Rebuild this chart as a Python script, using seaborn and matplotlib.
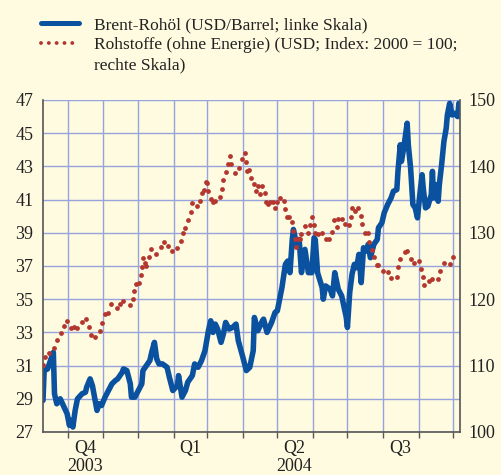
import pandas as pd
import numpy as np
import matplotlib
matplotlib.use('Agg')
import matplotlib.pyplot as plt
import matplotlib.dates as mdates
import matplotlib.ticker as mticker
from matplotlib.lines import Line2D
import seaborn as sns

# days counted from the first trading day shown
start = pd.Timestamp('2003-10-10')
end = pd.Timestamp('2004-10-07')

# Brent crude, USD per barrel (left scale)
brent_day = [0, 1, 4, 9, 10, 12, 15, 17, 21, 23, 24, 26, 28, 30, 34, 37, 38, 41, 43, 47,
             49, 51, 54, 57, 60, 63, 65, 69, 70, 73, 76, 77, 80, 83, 86, 87, 90, 93, 95, 97,
             99, 101, 104, 108, 110, 113, 117, 118, 121, 124, 126, 130, 132, 135, 138, 141, 144, 146, 148, 150,
             152, 155, 157, 159, 162, 165, 168, 170, 172, 174, 177, 180, 183, 184, 187, 191, 192, 195, 199, 202,
             204, 208, 211, 213, 215, 217, 218, 221, 223, 225, 228, 231, 234, 236, 237, 239, 243, 244, 246, 250,
             252, 254, 257, 260, 264, 265, 267, 269, 271, 273, 275, 277, 279, 282, 283, 285, 288, 291, 292, 295,
             297, 300, 303, 305, 308, 309, 311, 312, 314, 317, 318, 320, 322, 324, 326, 328, 330, 331, 333, 335,
             338, 339, 340, 342, 344, 345, 347, 349, 351, 352, 354, 356, 358, 361, 362]
brent_usd = [28.9, 30.7, 30.8, 31.8, 29.3, 28.7, 29.0, 28.7, 28.1, 27.4, 27.7, 27.3, 28.3, 29.0, 29.3, 29.4, 29.7, 30.2, 29.8, 28.3,
             28.7, 28.6, 29.1, 29.5, 29.9, 30.1, 30.2, 30.6, 30.8, 30.7, 29.9, 29.1, 29.1, 29.5, 29.9, 30.7, 31.0, 31.3, 31.9, 32.4,
             31.4, 31.1, 31.1, 30.9, 30.3, 29.5, 29.8, 30.4, 29.1, 29.5, 30.0, 30.4, 31.1, 30.9, 31.3, 31.9, 33.1, 33.7, 33.0, 33.5,
             33.2, 32.4, 32.9, 33.6, 33.2, 33.3, 33.5, 32.5, 32.0, 31.5, 30.7, 30.9, 31.9, 33.9, 33.1, 33.7, 33.8, 33.0, 33.6, 34.2,
             34.3, 35.7, 37.1, 37.3, 36.6, 38.6, 39.2, 38.2, 38.6, 36.6, 38.0, 36.6, 36.6, 38.7, 38.6, 36.6, 35.7, 35.0, 35.8, 35.6,
             35.2, 36.6, 35.6, 35.2, 33.9, 33.3, 35.4, 36.5, 37.1, 36.9, 37.7, 36.0, 38.1, 37.9, 38.3, 37.5, 38.3, 38.6, 39.3, 39.6,
             40.2, 40.7, 41.1, 41.5, 41.6, 42.7, 44.3, 43.3, 44.1, 45.6, 44.3, 42.9, 40.7, 40.5, 39.9, 41.3, 42.5, 41.7, 40.5, 40.6,
             41.3, 42.7, 41.1, 41.9, 40.9, 41.9, 43.1, 44.5, 45.3, 46.1, 46.8, 46.1, 46.2, 46.0, 46.8]

# commodity index excl. energy, 2000 = 100 (right scale)
raw_day = [0, 2, 5, 10, 12, 16, 18, 21, 24, 27, 30, 34, 37, 40, 42, 45, 50, 51, 54, 57,
           59, 64, 67, 70, 76, 78, 79, 81, 84, 85, 86, 87, 89, 90, 92, 94, 98, 103, 105, 109,
           112, 117, 120, 122, 124, 126, 129, 130, 134, 137, 138, 140, 142, 143, 144, 146, 148, 150, 154, 156,
           157, 159, 161, 163, 164, 167, 171, 173, 176, 177, 178, 179, 181, 184, 185, 187, 189, 191, 193, 194,
           196, 198, 200, 202, 204, 206, 210, 211, 212, 214, 217, 218, 219, 220, 222, 224, 225, 228, 231, 232,
           234, 236, 237, 239, 243, 246, 249, 252, 253, 256, 257, 260, 263, 266, 268, 269, 272, 274, 277, 278,
           280, 283, 284, 286, 288, 291, 292, 296, 300, 303, 308, 309, 311, 315, 317, 320, 323, 327, 329, 331,
           332, 336, 339, 344, 346, 349, 354, 357]
raw_index = [110.1, 111.3, 111.9, 112.7, 113.9, 114.9, 116.0, 116.7, 115.7, 115.8, 115.6, 116.6, 117.0, 115.8, 114.6, 114.3, 115.2, 116.4, 117.8, 117.9,
             119.3, 118.7, 119.3, 119.7, 119.1, 120.0, 121.2, 122.3, 122.4, 123.7, 124.9, 126.2, 125.4, 125.0, 126.3, 127.6, 126.8, 127.9, 128.6, 128.0,
             127.3, 127.7, 128.8, 130.0, 130.7, 131.9, 133.1, 134.5, 134.0, 134.8, 136.0, 136.4, 137.6, 137.5, 136.3, 135.1, 134.6, 134.8, 135.4, 136.6,
             137.9, 139.2, 140.4, 141.6, 140.4, 139.0, 139.8, 141.1, 142.0, 140.7, 139.3, 139.4, 138.3, 137.3, 136.3, 137.0, 135.8, 137.0, 136.0, 134.6,
             134.3, 134.7, 134.6, 133.7, 134.6, 135.3, 134.8, 133.6, 132.4, 132.4, 131.6, 130.3, 129.0, 127.9, 129.0, 129.1, 129.8, 131.0, 130.0, 131.2,
             132.4, 131.2, 130.0, 129.8, 130.0, 129.0, 129.0, 130.1, 132.0, 130.9, 132.1, 132.1, 131.3, 131.2, 132.4, 133.7, 133.3, 133.7, 132.5, 131.3,
             130.0, 130.0, 128.6, 127.4, 126.3, 125.2, 125.2, 124.2, 124.1, 123.2, 123.4, 124.8, 126.1, 127.1, 127.3, 126.1, 125.5, 125.8, 124.6, 123.3,
             122.2, 122.7, 123.0, 123.0, 124.2, 125.5, 125.3, 126.4]

quarter_labels = ['Q4\n2003', 'Q1', 'Q2\n2004', 'Q3']
quarter_mid = ['2003-11-16', '2004-02-15', '2004-05-16', '2004-08-16']

legend_labels = ['Brent-Rohöl (USD/Barrel; linke Skala)',
                 'Rohstoffe (ohne Energie) (USD; Index: 2000 = 100;',
                 'rechte Skala)']

brent = pd.DataFrame({'date': start + pd.to_timedelta(brent_day, unit='D'), 'usd': brent_usd})
raw = pd.DataFrame({'date': start + pd.to_timedelta(raw_day, unit='D'), 'index': raw_index})

sns.set_theme(style='white')
plt.rcParams['font.family'] = ['Liberation Serif', 'DejaVu Serif']

bg = '#fffbe1'
blue = '#0a52a0'
red = '#b3372f'
grid = '#97a4dc'
dark = '#555555'
txt = '#222222'

fig = plt.figure(figsize=(5.01, 4.75), dpi=100, facecolor=bg)
ax = fig.add_axes([43 / 501, 1 - 432 / 475, 417 / 501, 332 / 475])
ax.set_facecolor(bg)
ax2 = ax.twinx()

sns.lineplot(data=brent, x='date', y='usd', ax=ax, color=blue, lw=4.0,
             estimator=None, sort=False, legend=False)
sns.scatterplot(data=raw, x='date', y='index', ax=ax2, color=red, s=12,
                linewidth=0, legend=False)

ax.set_xlim(start, end)
ax.set_ylim(27, 47)
ax2.set_ylim(100, 150)
ax.set_yticks(range(27, 48, 2))
ax2.set_yticks(range(100, 151, 10))

ax.xaxis.set_major_locator(mdates.MonthLocator())
ax.xaxis.set_major_formatter(mticker.NullFormatter())
ax.xaxis.set_minor_locator(mticker.FixedLocator(mdates.date2num(pd.to_datetime(quarter_mid))))
ax.xaxis.set_minor_formatter(mticker.FixedFormatter(quarter_labels))

ax.set_axisbelow(True)
ax.grid(True, which='major', color=grid, lw=1)
ax.set_xlabel('')
ax.set_ylabel('')
ax2.set_ylabel('')

for s in ['top', 'right']:
    ax.spines[s].set_visible(False)
for s in ['top', 'left', 'bottom']:
    ax2.spines[s].set_visible(False)
for sp in [ax.spines['left'], ax.spines['bottom'], ax2.spines['right']]:
    sp.set_color(dark)
    sp.set_linewidth(1.2)

ax.tick_params(axis='y', left=False, length=0, labelsize=13, pad=7, labelcolor=txt)
ax2.tick_params(axis='y', right=False, length=0, labelsize=13, pad=6, labelcolor=txt)
ax.tick_params(axis='x', which='major', bottom=True, length=4, width=1, color=dark, direction='out')
ax.tick_params(axis='x', which='minor', bottom=True, length=0, labelsize=13, pad=6,
               labelcolor=txt)
for t in ax.xaxis.get_minorticklabels():
    t.set_linespacing(1.05)

handles = [Line2D([], [], color=blue, lw=3.6),
           Line2D([], [], color=red, lw=2.8, linestyle=(0, (0.01, 2.0)), dash_capstyle='round'),
           Line2D([], [], color='none')]
fig.legend(handles=handles, labels=legend_labels, loc='upper left',
           bbox_to_anchor=(41 / 501, 1 - 17 / 475), frameon=False, fontsize=12.5,
           handlelength=2.2, handletextpad=0.85, labelspacing=0.24,
           borderaxespad=0, borderpad=0, labelcolor=txt)

fig.savefig('out.png', dpi=100, facecolor=bg)
